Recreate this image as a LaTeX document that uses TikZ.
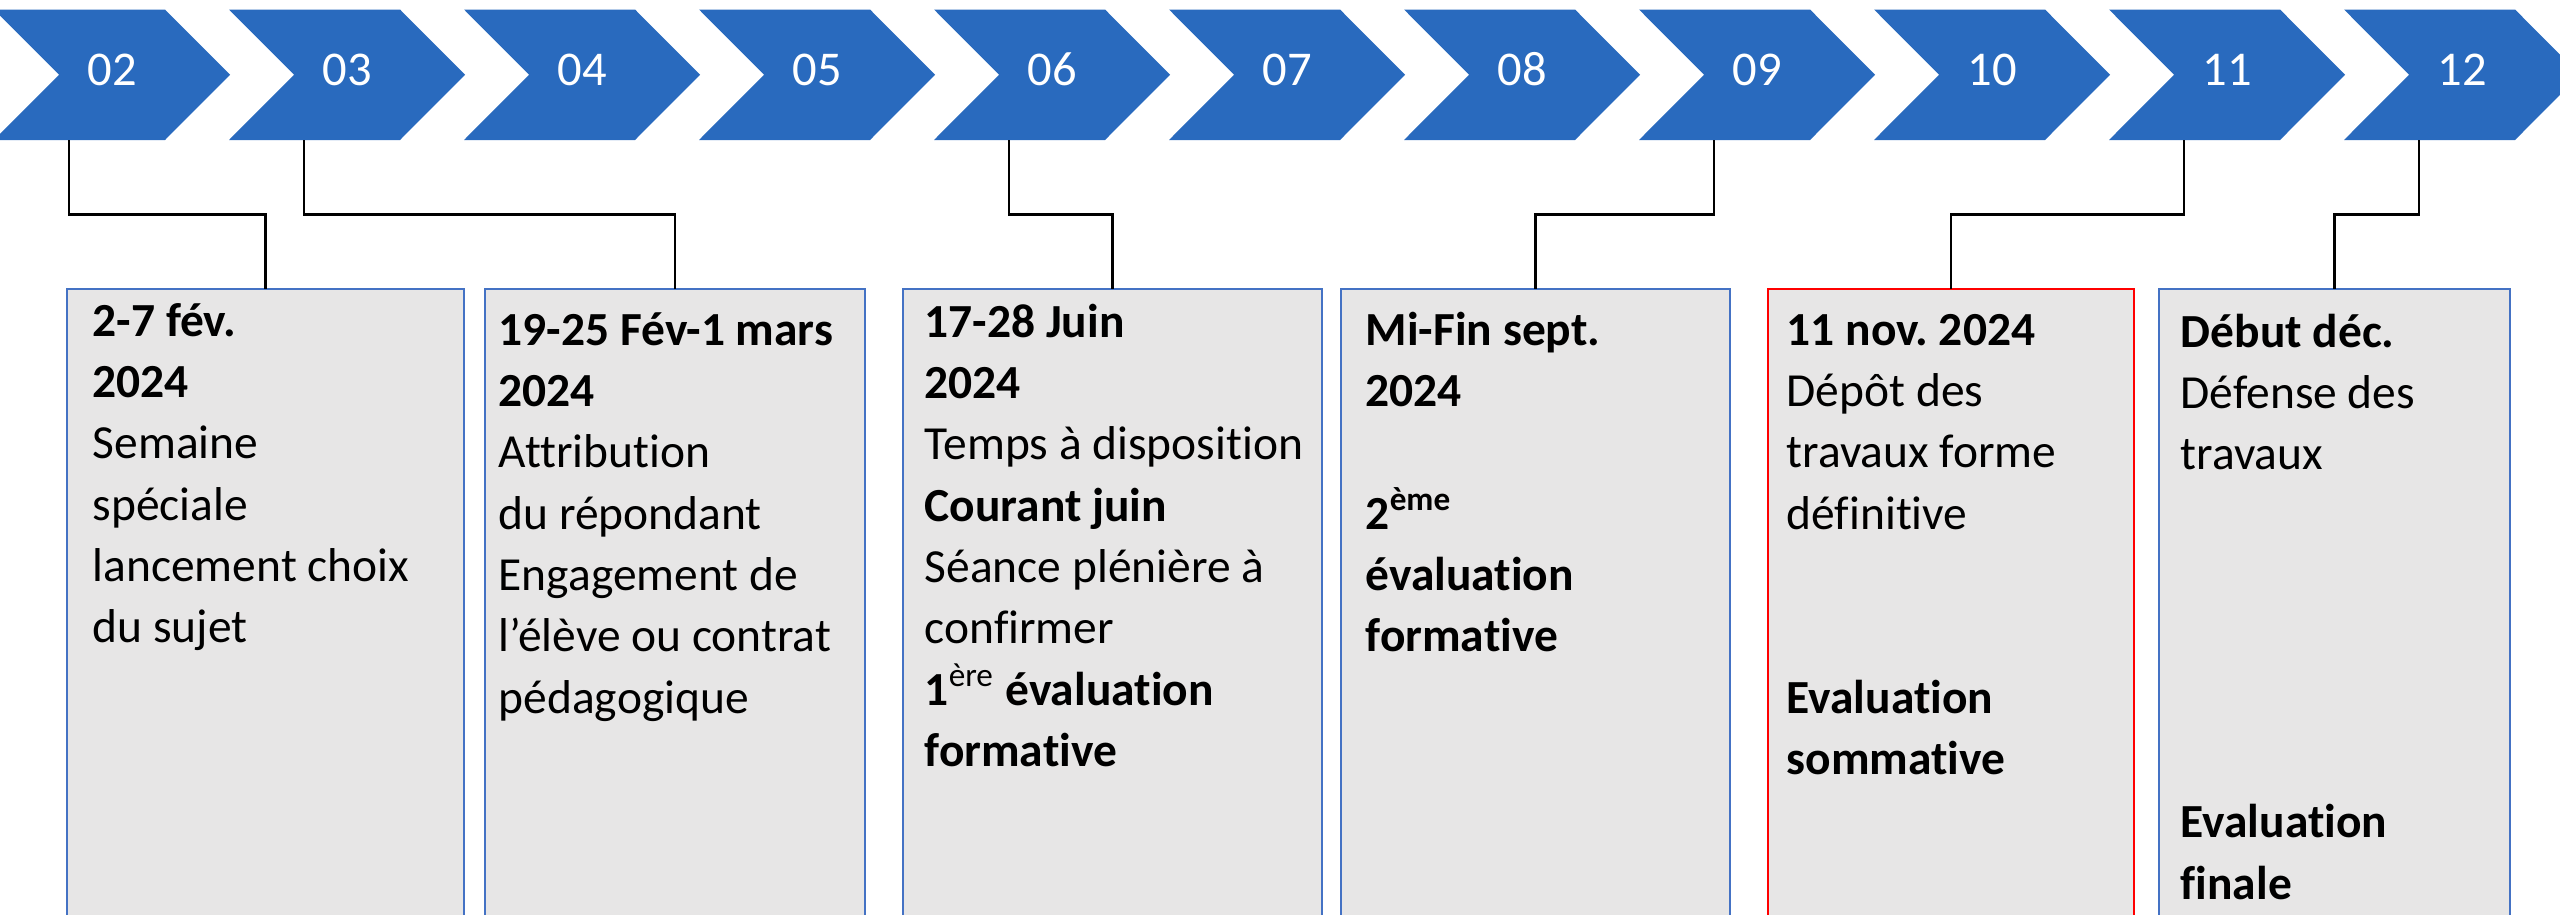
\documentclass[tikz,border=0pt]{standalone}
\usepackage{fontspec}
\setmainfont{Carlito}[Ligatures=NoCommon]
\usetikzlibrary{calc}
\frenchspacing

\definecolor{chevblue}{RGB}{41,106,190}
\definecolor{panelgray}{RGB}{231,230,230}
\definecolor{panelblue}{RGB}{68,114,196}

\begin{document}
\begin{tikzpicture}[x=0.01cm,y=-0.01cm,
  month/.style={text=white,font=\fontsize{13.8}{16}\selectfont,anchor=base,inner sep=0pt},
  panel/.style={draw=panelblue,line width=0.5pt,fill=panelgray,anchor=north west,inner sep=0pt,outer sep=0pt,minimum height=7cm},
  note/.style={anchor=base west,inner sep=0pt,font=\fontsize{13.5}{17.45}\selectfont},
  link/.style={line width=0.7pt}]
\useasboundingbox (0,0) rectangle (2560,915);
\clip (0,0) rectangle (2560,915);
% chevrons with the months
\foreach \mon [count=\k from 0] in {02,03,04,05,06,07,08,09,10,11,12}{
  \pgfmathsetmacro\xo{235*\k-6}
  \fill[chevblue] (\xo,9.5) -- ++(171,0) -- ++(65,65.25) -- ++(-65,65.25) -- ++(-171,0) -- ++(65,-65.25) -- cycle;
  \node[month] (m\mon) at (\xo+118,85) {\mon};
  \coordinate (c\mon) at (\xo+75,140);
}
% panels
\node[panel,minimum width=3.97cm] (b1) at (67,289) {};
\node[panel,minimum width=3.80cm] (b2) at (485,289) {};
\node[panel,minimum width=4.19cm] (b3) at (903,289) {};
\node[panel,minimum width=3.89cm] (b4) at (1341,289) {};
\node[panel,draw=red,minimum width=3.66cm] (b5) at (1768,289) {};
\node[panel,minimum width=3.51cm] (b6) at (2159,289) {};
% links
\draw[link] (c02) -- ++(0,74.5) -| (b1.north);
\draw[link] (c03) -- ++(0,74.5) -| (b2.north);
\draw[link] (c06) -- ++(0,74.5) -| (b3.north);
\draw[link] (c09) -- ++(0,74.5) -| (b4.north);
\draw[link] (c11) -- ++(0,74.5) -| (b5.north);
\draw[link] (c12) -- ++(0,74.5) -| (b6.north);
% texts
\node[note] (t1) at ($(b1.north west)+(25,47)$) {\parbox[t]{5cm}{\textbf{2-7 fév.}\\\textbf{2024}\\Semaine\\spéciale\\lancement choix\\du sujet}};
\node[note] (t2) at ($(b2.north west)+(13,56)$) {\parbox[t]{5cm}{\textbf{19-25 Fév-1 mars}\\\textbf{2024}\\Attribution\\du répondant\\Engagement de\\l’élève ou contrat\\pédagogique}};
\node[note] (t3) at ($(b3.north west)+(21,48)$) {\parbox[t]{5cm}{\textbf{17-28 Juin}\\\textbf{2024}\\Temps à disposition\\\textbf{Courant juin}\\Séance plénière à\\confirmer\\\textbf{1}\textsuperscript{ère} \textbf{évaluation}\\\textbf{formative}}};
\node[note] (t4) at ($(b4.north west)+(24,56)$) {\parbox[t]{5cm}{\textbf{Mi-Fin sept.}\\\textbf{2024}\\\mbox{}\\\textbf{2\textsuperscript{ème}}\\\textbf{évaluation}\\\textbf{formative}}};
\node[note] (t5) at ($(b5.north west)+(18,56)$) {\parbox[t]{5cm}{\textbf{11 nov. 2024}\\Dépôt des\\travaux forme\\définitive\\\mbox{}\\\mbox{}\\\textbf{Evaluation}\\\textbf{sommative}}};
\node[note] (t6) at ($(b6.north west)+(21,58)$) {\parbox[t]{5cm}{\textbf{Début déc.}\\Défense des\\travaux\\\mbox{}\\\mbox{}\\\mbox{}\\\mbox{}\\\mbox{}\\\textbf{Evaluation}\\\textbf{finale}}};
\end{tikzpicture}
\end{document}
